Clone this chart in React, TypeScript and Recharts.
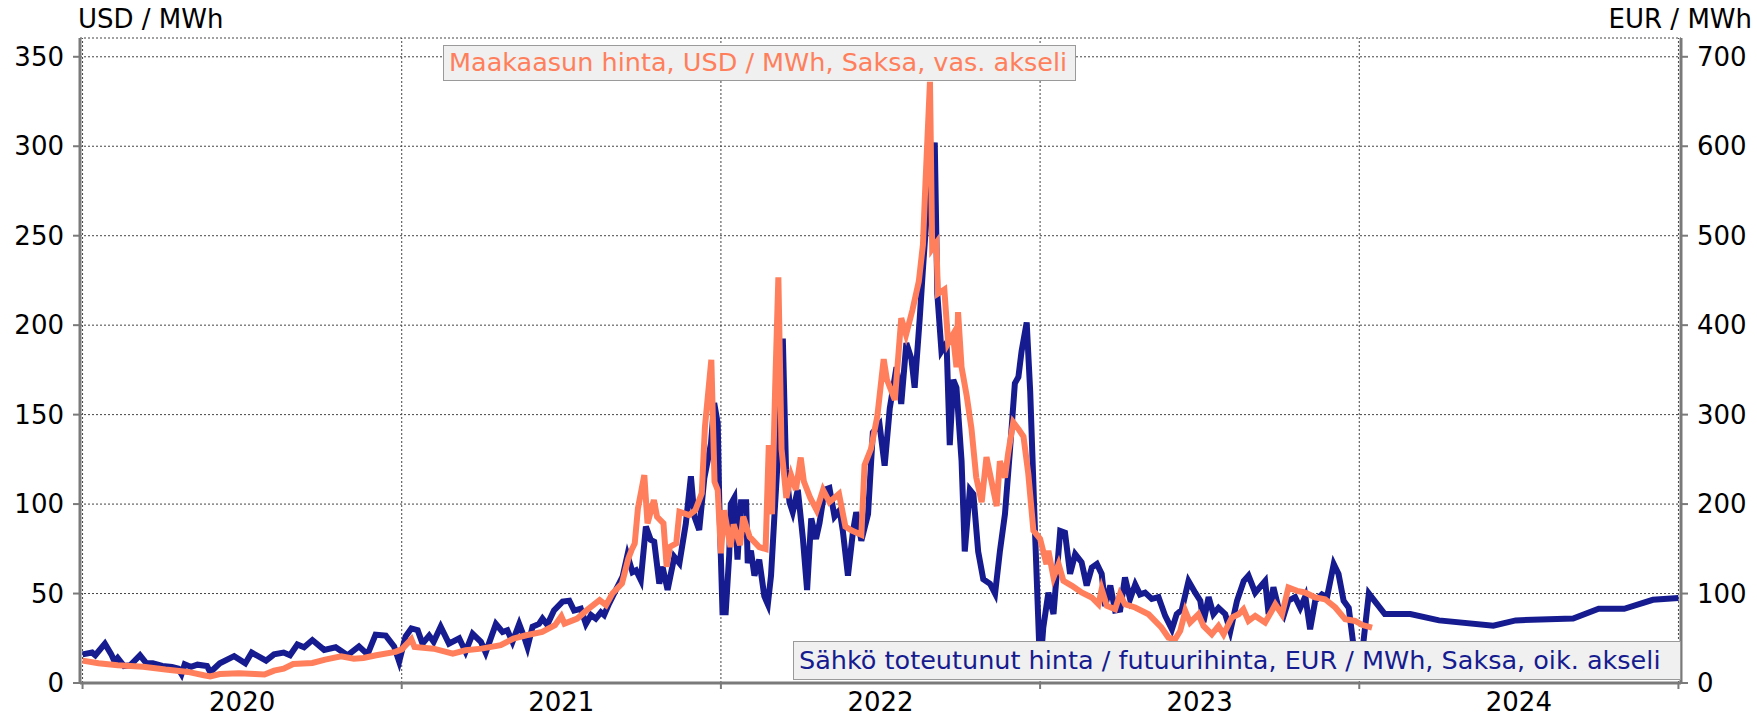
import React from "react"
import { LineChart, Line, XAxis, YAxis, CartesianGrid, ReferenceLine } from "recharts"

// gas price, USD / MWh (left axis)
const gasT = [
  2020.0, 2020.05, 2020.11, 2020.19, 2020.26, 2020.33, 2020.38, 2020.4, 2020.43, 2020.49, 2020.54, 2020.57,
  2020.6, 2020.63, 2020.66, 2020.72, 2020.76, 2020.81, 2020.85, 2020.88, 2020.92, 2020.98, 2021.0, 2021.03,
  2021.04, 2021.1, 2021.16, 2021.2, 2021.25, 2021.31, 2021.35, 2021.39, 2021.44, 2021.48, 2021.5, 2021.51,
  2021.55, 2021.58, 2021.62, 2021.64, 2021.66, 2021.69, 2021.71, 2021.72, 2021.73, 2021.74, 2021.76, 2021.77,
  2021.79, 2021.8, 2021.82, 2021.83, 2021.84, 2021.86, 2021.87, 2021.9, 2021.92, 2021.94, 2021.95, 2021.97,
  2021.98, 2021.99, 2022.0, 2022.01, 2022.03, 2022.04, 2022.06, 2022.07, 2022.09, 2022.12, 2022.14, 2022.15,
  2022.16, 2022.17, 2022.18, 2022.19, 2022.205, 2022.22, 2022.235, 2022.25, 2022.26, 2022.28, 2022.3, 2022.32,
  2022.34, 2022.37, 2022.39, 2022.41, 2022.44, 2022.45, 2022.47, 2022.49, 2022.51, 2022.52, 2022.545, 2022.565,
  2022.58, 2022.6, 2022.62, 2022.633, 2022.64, 2022.655, 2022.662, 2022.675, 2022.68, 2022.7, 2022.712, 2022.727,
  2022.738, 2022.743, 2022.754, 2022.77, 2022.785, 2022.8, 2022.817, 2022.832, 2022.848, 2022.864, 2022.874, 2022.89,
  2022.9, 2022.916, 2022.932, 2022.948, 2022.963, 2022.979, 2023.0, 2023.02, 2023.026, 2023.042, 2023.058, 2023.073,
  2023.1, 2023.13, 2023.162, 2023.183, 2023.193, 2023.209, 2023.235, 2023.25, 2023.266, 2023.298, 2023.34, 2023.38,
  2023.402, 2023.423, 2023.439, 2023.455, 2023.47, 2023.496, 2023.512, 2023.538, 2023.559, 2023.575, 2023.601, 2023.622,
  2023.637, 2023.653, 2023.674, 2023.705, 2023.726, 2023.737, 2023.758, 2023.778, 2023.805, 2023.83, 2023.862, 2023.893,
  2023.925, 2023.956, 2023.987, 2024.01, 2024.04,
]
const gasUsd = [
  12.5, 11, 9.9, 9.1, 7.5, 6.2, 4.3, 3.7, 5, 5.4, 5, 4.7,
  6.9, 8, 10.6, 11.2, 13.1, 14.9, 13.6, 14, 15.5, 17.4, 18.8, 24.5,
  20.1, 19.2, 16.4, 18.3, 19.2, 21.1, 24.8, 26.7, 28.5, 32.3, 37.3, 33.2,
  36, 40.7, 46.3, 43.5, 50, 55.6, 69.6, 74.3, 78, 97.6, 116.2, 89.2,
  102.2, 92.9, 89.2, 64.9, 76.1, 78, 95.7, 93.8, 96.6, 106, 143.3, 180.6,
  112.5, 107.8, 72.5, 96.6, 76, 88.6, 77, 93, 81.7, 76, 74.9, 133,
  94.3, 165, 226.7, 130.8, 103.4, 116, 108, 126, 112.6, 103.4, 96.6, 108,
  101.1, 105.7, 87.4, 85.2, 82.9, 121.7, 130.8, 149, 181, 169.6, 158.2, 203.9,
  194.7, 208.4, 224.4, 245, 275.8, 336, 242.7, 246, 217.6, 219.9, 190, 194.7,
  176.5, 207.3, 176.5, 160.5, 142.2, 114.8, 101.1, 126.3, 112.6, 98.9, 124, 114.8,
  128.5, 145.7, 142, 137.7, 117, 85.2, 80.6, 66.4, 73.9, 59, 66.4, 57.1,
  54.3, 50.6, 47.8, 44, 52.4, 43.1, 41.2, 49.6, 44, 42.2, 38.4, 31,
  25.4, 24.4, 29.1, 40.3, 33.8, 38.4, 31.9, 27.2, 31.9, 27.2, 36.6, 38.4,
  41.2, 34.7, 37.5, 33.8, 40.3, 44, 38.4, 53.4, 51.5, 50.6, 47.8, 46.8,
  42.2, 35.6, 34.7, 32.4, 30.9,
]

// electricity spot / futures, EUR / MWh (right axis)
const powerT = [
  2020.0, 2020.03, 2020.04, 2020.07, 2020.09, 2020.1, 2020.11, 2020.13, 2020.15, 2020.18, 2020.2, 2020.22,
  2020.25, 2020.28, 2020.3, 2020.31, 2020.32, 2020.34, 2020.36, 2020.39, 2020.4, 2020.43, 2020.475, 2020.51,
  2020.53, 2020.575, 2020.6, 2020.63, 2020.65, 2020.673, 2020.694, 2020.72, 2020.757, 2020.793, 2020.83, 2020.866,
  2020.893, 2020.918, 2020.95, 2020.976, 2020.992, 2021.012, 2021.03, 2021.05, 2021.065, 2021.086, 2021.1, 2021.122,
  2021.148, 2021.18, 2021.2, 2021.222, 2021.248, 2021.263, 2021.295, 2021.316, 2021.331, 2021.347, 2021.368, 2021.384,
  2021.394, 2021.41, 2021.43, 2021.441, 2021.456, 2021.477, 2021.504, 2021.525, 2021.54, 2021.561, 2021.577, 2021.593,
  2021.608, 2021.624, 2021.634, 2021.65, 2021.671, 2021.692, 2021.707, 2021.723, 2021.734, 2021.749, 2021.765, 2021.78,
  2021.791, 2021.807, 2021.817, 2021.833, 2021.854, 2021.87, 2021.89, 2021.906, 2021.917, 2021.932, 2021.948, 2021.969,
  2021.979, 2021.99, 2021.995, 2022.005, 2022.015, 2022.026, 2022.031, 2022.042, 2022.052, 2022.063, 2022.079, 2022.084,
  2022.094, 2022.105, 2022.12, 2022.136, 2022.147, 2022.157, 2022.168, 2022.183, 2022.194, 2022.204, 2022.215, 2022.225,
  2022.241, 2022.257, 2022.27, 2022.283, 2022.298, 2022.309, 2022.325, 2022.34, 2022.356, 2022.372, 2022.382, 2022.398,
  2022.414, 2022.424, 2022.44, 2022.461, 2022.476, 2022.497, 2022.513, 2022.529, 2022.55, 2022.565, 2022.581, 2022.597,
  2022.607, 2022.623, 2022.633, 2022.649, 2022.67, 2022.678, 2022.691, 2022.707, 2022.717, 2022.728, 2022.738, 2022.754,
  2022.764, 2022.78, 2022.791, 2022.806, 2022.822, 2022.843, 2022.859, 2022.874, 2022.89, 2022.906, 2022.921, 2022.932,
  2022.942, 2022.958, 2022.969, 2022.984, 2023.0, 2023.01, 2023.026, 2023.042, 2023.063, 2023.078, 2023.094, 2023.11,
  2023.13, 2023.146, 2023.162, 2023.178, 2023.193, 2023.204, 2023.22, 2023.235, 2023.251, 2023.266, 2023.282, 2023.298,
  2023.313, 2023.329, 2023.35, 2023.371, 2023.392, 2023.413, 2023.428, 2023.444, 2023.465, 2023.486, 2023.502, 2023.512,
  2023.528, 2023.543, 2023.559, 2023.58, 2023.596, 2023.617, 2023.638, 2023.653, 2023.674, 2023.705, 2023.716, 2023.731,
  2023.747, 2023.763, 2023.778, 2023.799, 2023.815, 2023.831, 2023.846, 2023.862, 2023.883, 2023.899, 2023.92, 2023.935,
  2023.951, 2023.967, 2023.98, 2023.99, 2024.005, 2024.03, 2024.08, 2024.16, 2024.25, 2024.42, 2024.49, 2024.67,
  2024.75, 2024.83, 2024.92, 2025.0,
]
const powerEur = [
  32, 34, 31, 44, 32, 24, 28, 19, 20, 31, 22, 22,
  19, 18, 16, 10, 21, 18, 20.5, 19, 12, 22, 30, 22,
  34, 25, 32, 34, 31, 43, 40, 48, 37, 40, 31, 41,
  32, 54, 53, 41, 24, 52, 61, 59, 44, 53, 46, 63,
  44, 50, 35, 55, 46, 34, 66, 57, 59, 46, 66, 51,
  40, 63, 66, 72, 65, 81, 91, 92, 81, 83, 66, 76,
  72, 79, 76, 89, 104, 119, 143, 124, 126, 115, 175, 160,
  158, 111, 130, 104, 141, 134, 178, 231, 186, 171, 229, 268,
  313, 290, 200, 79, 79, 143, 200, 207, 138, 202, 202, 134,
  148, 120, 138, 97, 88, 120, 189, 280, 385, 239, 202, 191,
  216, 161, 104, 184, 161, 179, 216, 218, 186, 193, 170, 120,
  170, 191, 159, 189, 280, 289, 243, 307, 353, 312, 380, 362,
  330, 408, 463, 545, 604, 435, 371, 380, 266, 339, 330, 248,
  147, 216, 211, 147, 116, 111, 100, 147, 189, 262, 335, 342,
  371, 403, 326, 170, 15, 62, 101, 77, 170, 168, 122, 144,
  135, 109, 129, 133, 122, 86, 109, 81, 82, 118, 94, 110,
  99, 101, 94, 96, 75, 60, 77, 82, 114, 101, 92, 68,
  96, 77, 84, 77, 58, 92, 114, 120, 101, 114, 77, 107,
  84, 75, 92, 96, 84, 97, 60, 92, 99, 96, 133, 122,
  92, 84, 47, 20, 20, 100, 77, 77, 70, 64, 70, 72,
  83, 83, 93, 95,
]

// year boundaries carry tick marks + grid lines, labels sit mid-year
const yearTicks = [2020, 2021, 2022, 2023, 2024, 2025]
const yearLabelPos = [2020.5, 2021.5, 2022.5, 2023.5, 2024.5]
const yearLabels = ["2020", "2021", "2022", "2023", "2024"]
const xTicks = [2020, 2020.5, 2021, 2021.5, 2022, 2022.5, 2023, 2023.5, 2024, 2024.5, 2025]
const leftTicks = [0, 50, 100, 150, 200, 250, 300, 350]
const rightTicks = [0, 100, 200, 300, 400, 500, 600, 700]

const gasRows = gasT.map((t, i) => ({ t, v: gasUsd[i] }))
const powerRows = powerT.map((t, i) => ({ t, v: powerEur[i] }))

const FONT = "'DejaVu Sans', Verdana, sans-serif"
const BLUE = "#161c8f"
const ORANGE = "#ff7f5c"
const AXIS = "#7a7a7a"
const GRID = "#444"
const tickStyle = { fill: "#000", fontSize: 26, fontFamily: FONT }

function YearTick(props: any) {
  const { x, y, payload } = props
  const v = payload.value
  const idx = yearLabelPos.indexOf(v)
  if (idx >= 0) {
    return (
      <text x={x} y={y + 10} dy="0.71em" textAnchor="middle" {...tickStyle}>
        {yearLabels[idx]}
      </text>
    )
  }
  return <line x1={x} x2={x} y1={y} y2={y + 6} stroke={AXIS} strokeWidth={2} />
}

const boxStyle: React.CSSProperties = {
  position: "absolute",
  boxSizing: "border-box",
  background: "#f0f0f0",
  border: "1.5px solid #9a9a9a",
  fontFamily: FONT,
  fontSize: 25.5,
  whiteSpace: "nowrap",
  paddingLeft: 5,
}

export default function App() {
  return (
    <div style={{ position: "absolute", left: 0, top: 0, width: 1757, height: 718, background: "#fff" }}>
      <LineChart width={1757} height={718} margin={{ top: 38, right: 0, bottom: 0, left: 0 }}>
        <CartesianGrid stroke={GRID} strokeDasharray="2 2" strokeWidth={1} yAxisId="l" xAxisId="g" vertical={false} />
        {yearTicks.map((t) => (
          <ReferenceLine key={t} x={t} xAxisId="g" yAxisId="l" stroke={GRID} strokeDasharray="2 2" strokeWidth={1} />
        ))}
        <XAxis
          xAxisId="g"
          dataKey="t"
          type="number"
          domain={[2019.992, 2025.008]}
          ticks={xTicks}
          interval={0}
          height={35}
          tickSize={0}
          tickMargin={0}
          tick={<YearTick />}
          axisLine={{ stroke: AXIS, strokeWidth: 3 }}
          tickLine={false}
        />
        <YAxis
          yAxisId="l"
          orientation="left"
          type="number"
          domain={[0, 360.5]}
          ticks={leftTicks}
          interval={0}
          width={80}
          tickSize={7}
          tickMargin={9}
          tick={tickStyle}
          axisLine={{ stroke: AXIS, strokeWidth: 3 }}
          tickLine={{ stroke: AXIS, strokeWidth: 2 }}
        />
        <YAxis
          yAxisId="r"
          orientation="right"
          type="number"
          domain={[0, 721]}
          ticks={rightTicks}
          interval={0}
          width={76}
          tickSize={7}
          tickMargin={9}
          tick={tickStyle}
          axisLine={{ stroke: AXIS, strokeWidth: 3 }}
          tickLine={{ stroke: AXIS, strokeWidth: 2 }}
        />
        <Line
          data={powerRows}
          xAxisId="g"
          yAxisId="r"
          dataKey="v"
          type="linear"
          stroke={BLUE}
          strokeWidth={6}
          dot={false}
          isAnimationActive={false}
        />
        <Line
          data={gasRows}
          xAxisId="g"
          yAxisId="l"
          dataKey="v"
          type="linear"
          stroke={ORANGE}
          strokeWidth={6}
          dot={false}
          isAnimationActive={false}
        />
      </LineChart>

      <div style={{ position: "absolute", left: 78, top: 6, fontFamily: FONT, fontSize: 26, lineHeight: "26px", color: "#000" }}>
        USD / MWh
      </div>
      <div style={{ position: "absolute", right: 5, top: 6, fontFamily: FONT, fontSize: 26, lineHeight: "26px", color: "#000" }}>
        EUR / MWh
      </div>

      <div style={{ ...boxStyle, left: 443, top: 45, width: 633, height: 36, lineHeight: "33px", color: ORANGE }}>
        Maakaasun hinta, USD / MWh, Saksa, vas. akseli
      </div>
      <div style={{ ...boxStyle, left: 793, top: 641, width: 888, height: 39, lineHeight: "36px", color: BLUE }}>
        Sähkö toteutunut hinta / futuurihinta, EUR / MWh, Saksa, oik. akseli
      </div>
    </div>
  )
}
